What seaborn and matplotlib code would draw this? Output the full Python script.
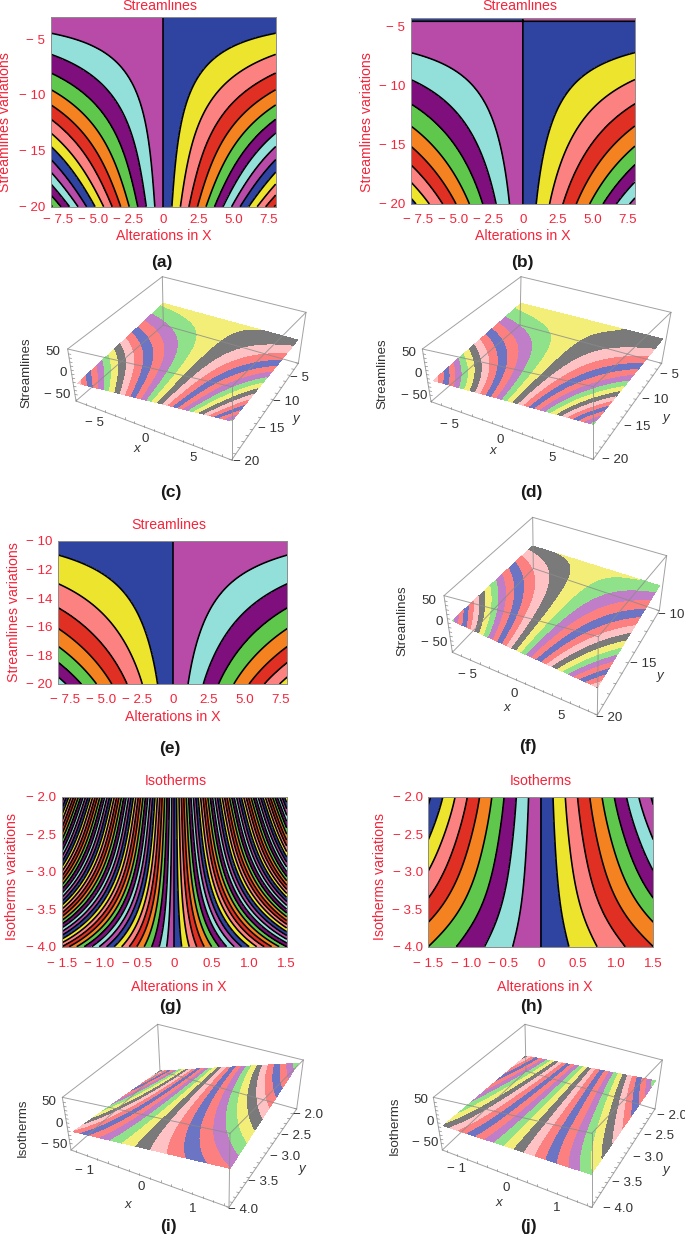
"""
Streamline and isotherm panels (a)-(j), contour maps and tilted surface views.
"""

import numpy as np
import pandas as pd
import matplotlib
matplotlib.use("Agg")
import matplotlib.pyplot as plt
import seaborn as sns

W, H = 685, 1237

# band colours
flat_colors = ["#2e44a0", "#ede42e", "#fc8282", "#e03024", "#f58220", "#5fc84c", "#7f0f7c", "#93e0da", "#b84aa8"]
tilt_colors = ["#f3ee78", "#7a7a7a", "#ffc2c4", "#fd8080", "#6c74c4", "#fd8080", "#c07ec8", "#8fe28a"]
RED = "#f5243a"
DARK = "#333333"

# level number reached on the right edge of each plot, against y
a_y = [-3, -4.5, -6.4, -8, -9.5, -10.9, -12.2, -13.5, -14.6, -15.7, -16.9, -18, -19, -20]
a_level = [0.25, 1, 2, 3, 4, 5, 6, 7, 8, 9, 10, 11, 12, 13.2]
b_y = [-4.3, -4.5, -7.2, -9.5, -11.5, -13.4, -15.1, -16.7, -18.1, -19.5, -20]
b_level = [-0.1, 0, 1, 2, 3, 4, 5, 6, 7, 8, 8.4]
c_y = [-4, -5, -6.4, -8, -9.5, -10.9, -12.2, -13.5, -14.6, -15.7, -16.9, -18, -19, -20]
c_level = [0.55, 1.0, 1.9, 3, 4.2, 5.4, 6.5, 7.6, 8.8, 9.8, 11, 12, 13.2, 14.6]
d_y = [-4, -7.2, -9.5, -11.5, -13.4, -15.1, -16.7, -18.1, -19.5, -20]
d_level = [0.55, 1.9, 3.6, 5.4, 7.2, 9, 10.8, 12.6, 14.1, 14.7]
e_y = [-10, -11, -13, -14.7, -16.1, -17.4, -18.5, -19.5, -20]
e_level = [0.6, 1, 2, 3, 4, 5, 6, 7, 7.5]
f_y = [-10, -11, -13, -14.7, -16.1, -17.4, -18.5, -19.5, -20]
f_level = [0.75, 1.8, 3.9, 5.9, 7.8, 9.8, 11.7, 13.7, 14.7]
g_y = [-4, -3.8, -3.5, -3, -2.5, -2]
g_level = [15, 19, 25, 34, 41, 47]
h_y = [-4, -3.67, -3.36, -2.98, -2.58, -2.1, -2]
h_level = [4, 5, 6, 7, 8, 9, 9.2]
i_y = [-4, -3.5, -3, -2.5, -2]
i_level = [5.4, 8.4, 10.9, 13.2, 15.2]
j_y = [-4, -3.5, -3, -2.5, -2]
j_level = [7.3, 9.3, 11, 13, 15.2]

x_ticks_wide = [-7.5, -5, -2.5, 0, 2.5, 5, 7.5]
x_labels_wide = ["− 7.5", "− 5.0", "− 2.5", "0", "2.5", "5.0", "7.5"]
x_ticks_narrow = [-1.5, -1, -0.5, 0, 0.5, 1, 1.5]
x_labels_narrow = ["− 1.5", "− 1.0", "− 0.5", "0", "0.5", "1.0", "1.5"]

fig = plt.figure(figsize=(W / 100, H / 100), dpi=100)
sns.set_theme(style="white")
plt.rcParams["font.family"] = ["Liberation Sans", "DejaVu Sans"]

over = fig.add_axes([0, 0, 1, 1], zorder=5)
over.set_xlim(0, W)
over.set_ylim(H, 0)
over.axis("off")
over.patch.set_alpha(0)


def put(px, py, s, color=DARK, size=10, **kw):
    over.text(px, py, s, color=color, fontsize=size, ha="center", va="center", **kw)


def level_curve(ys, levels, y):
    coef = np.polyfit(ys, levels, 5)
    return np.polyval(coef, y)


def flat_panel(box, xlim, ylim, ys, levels, xticks, xlabels, yticks, ylabels, title, ylabel,
               pad, sign=1):
    left, right, top, bottom = box
    ax = fig.add_axes([left / W, 1 - bottom / H, (right - left) / W, (bottom - top) / H])
    x = np.linspace(xlim[0], xlim[1], 500)
    y = np.linspace(ylim[0], ylim[1], 500)
    X, Y = np.meshgrid(x, y)
    Z = sign * X / xlim[1] * level_curve(ys, levels, Y)
    kmax = int(np.ceil(np.abs(Z).max())) + 1
    bounds = np.arange(-kmax, kmax + 1)
    pal = sns.color_palette(flat_colors)
    ax.contourf(X, Y, Z, levels=bounds, colors=[pal[k % 9] for k in bounds[:-1]], antialiased=False)
    ax.contour(X, Y, Z, levels=bounds, colors="black", linewidths=1.15, linestyles="solid")
    ax.set_xlim(*xlim)
    ax.set_ylim(*ylim)
    ax.set_xticks(xticks, xlabels)
    ax.set_yticks(yticks, ylabels)
    ax.tick_params(axis="x", colors=RED, labelsize=9.6, length=1.5, width=0.5, pad=pad, direction="in")
    ax.tick_params(axis="y", colors=RED, labelsize=9.6, length=1.5, width=0.5, pad=4, direction="in")
    for s in ax.spines.values():
        s.set_color("#8c8c8c")
        s.set_linewidth(0.7)
    title_xy, xlabel_xy, ylabel_xy = title, ylabel[0], ylabel[1]
    put(*title_xy[:2], title_xy[2], RED, 10.2)
    put(*xlabel_xy, "Alterations in X", RED, 10.2)
    put(*ylabel_xy[:2], ylabel_xy[2], RED, 10.2, rotation=90)


def homography(corners):
    """Map the unit square to the four plane corners FL, FR, BR, BL."""
    src = [(0, 0), (1, 0), (1, 1), (0, 1)]
    rows, rhs = [], []
    for (u, v), (px, py) in zip(src, corners):
        rows.append([u, v, 1, 0, 0, 0, -u * px, -v * px])
        rows.append([0, 0, 0, u, v, 1, -u * py, -v * py])
        rhs += [px, py]
    return np.append(np.linalg.solve(np.array(rows, float), np.array(rhs, float)), 1.0).reshape(3, 3)


def zoomed(points, off):
    return [(off[0] + p[0] / 3, off[1] + p[1] / 3) for p in points]


def tilt_panel(off, plane, frame, xlim, ylim, ys, levels, shift, sign=1):
    M = homography(zoomed(plane, off))
    x = np.linspace(xlim[0], xlim[1], 400)
    y = np.linspace(ylim[0], ylim[1], 400)
    X, Y = np.meshgrid(x, y)
    U = (X - xlim[0]) / (xlim[1] - xlim[0])
    V = (Y - ylim[0]) / (ylim[1] - ylim[0])
    den = M[2, 0] * U + M[2, 1] * V + M[2, 2]
    PX = (M[0, 0] * U + M[0, 1] * V + M[0, 2]) / den
    PY = (M[1, 0] * U + M[1, 1] * V + M[1, 2]) / den
    Z = sign * X / xlim[1] * level_curve(ys, levels, Y) + shift
    kmax = int(np.ceil(np.abs(Z).max())) + 2
    bounds = np.arange(-kmax, kmax + 1) - 0.5
    pal = sns.color_palette(tilt_colors)
    over.contourf(PX, PY, Z, levels=bounds, colors=[pal[k % 8] for k in range(-kmax, kmax)], zorder=2)
    # box edges
    pts = dict(zip(["TB", "LT", "RT", "LB", "RB", "FB", "BB", "FT"], zoomed(frame, off)))
    pairs = [("TB", "LT"), ("TB", "RT"), ("LT", "FT"), ("RT", "FT"), ("LT", "LB"), ("RT", "RB"),
             ("FT", "FB"), ("LB", "FB"), ("RB", "FB"), ("TB", "BB"), ("BB", "LB"), ("BB", "RB")]
    rows = []
    for n, (p, q) in enumerate(pairs):
        rows += [(n, *pts[p]), (n, *pts[q])]
    edges = pd.DataFrame(rows, columns=["edge", "px", "py"])
    sns.lineplot(data=edges, x="px", y="py", units="edge", estimator=None, sort=False,
                 color="#8a8a8a", lw=0.7, alpha=0.8, ax=over, zorder=3, legend=False)
    return pts


def edge_ticks(p, q, fracs, dx, dy):
    for n, f in enumerate(fracs):
        px = p[0] + (q[0] - p[0]) * f
        py = p[1] + (q[1] - p[1]) * f
        over.plot([px, px + dx], [py, py + dy], color="#8a8a8a", lw=0.5, zorder=3)


def tilt_ticks(pts, xlim, ylim, xstep, ystep):
    xv = np.arange(np.ceil(xlim[0] / xstep) * xstep, xlim[1] + 1e-6, xstep)
    yv = np.arange(np.ceil(ylim[0] / ystep) * ystep, ylim[1] + 1e-6, ystep)
    edge_ticks(pts["LB"], pts["FB"], (xv - xlim[0]) / (xlim[1] - xlim[0]), 0, -2)
    edge_ticks(pts["FB"], pts["RB"], (yv - ylim[0]) / (ylim[1] - ylim[0]), -2.5, -0.5)
    edge_ticks(pts["LT"], pts["LB"], np.arange(0.094, 0.9, 0.078), 2.5, 0.5)


def labels3d(off, rows):
    for (zx, zy, s, *rest) in rows:
        kw = rest[0] if rest else {}
        put(off[0] + zx / 3, off[1] + zy / 3, s, DARK, 9.6, **kw)


ITAL = {"style": "italic"}
VERT = {"rotation": 90}

# flat contour maps
flat_panel((51, 275.7, 16.7, 206.7), (-8, 8), (-20, -3), a_y, a_level, x_ticks_wide, x_labels_wide,
           [-5, -10, -15, -20], ["− 5", "− 10", "− 15", "− 20"], (160, 5.7, "Streamlines"),
           ((164, 236), (5.3, 122, "Streamlines variations")), 5)
flat_panel((410.7, 635, 18.3, 204), (-8, 8), (-20, -4.3), b_y, b_level, x_ticks_wide, x_labels_wide,
           [-5, -10, -15, -20], ["− 5", "− 10", "− 15", "− 20"], (519.7, 5.7, "Streamlines"),
           ((523, 236), (366.7, 122, "Streamlines variations")), 7)
flat_panel((58.3, 287.3, 540.7, 684), (-8, 8), (-20, -10), e_y, e_level, x_ticks_wide, x_labels_wide,
           [-10, -12, -14, -16, -18, -20], ["− 10", "− 12", "− 14", "− 16", "− 18", "− 20"],
           (169, 525, "Streamlines"), ((173, 717), (14, 612, "Streamlines variations")), 7, sign=-1)
flat_panel((61.7, 286.7, 796.7, 946.7), (-1.5, 1.5), (-4, -2), g_y, g_level, x_ticks_narrow, x_labels_narrow,
           [-2, -2.5, -3, -3.5, -4], ["− 2.0", "− 2.5", "− 3.0", "− 3.5", "− 4.0"],
           (175.7, 780.7, "Isotherms"), ((179, 986.7), (11.7, 877, "Isotherms variations")), 8)
flat_panel((428.3, 653.3, 796.7, 946.7), (-1.5, 1.5), (-4, -2), h_y, h_level, x_ticks_narrow, x_labels_narrow,
           [-2, -2.5, -3, -3.5, -4], ["− 2.0", "− 2.5", "− 3.0", "− 3.5", "− 4.0"],
           (541, 780.7, "Isotherms"), ((544.3, 986.7), (380, 877, "Isotherms variations")), 8)

# tilted surface views
off = (0, 265)
p = tilt_panel(off, [(233, 355), (695, 468), (893, 225), (490, 115)],
               [(487, 35), (203, 252), (918, 142), (228, 408), (895, 295), (695, 585), (490, 180), (695, 365)],
               (-8, 8), (-20, -4), c_y, c_level, 0.25)
tilt_ticks(p, (-8, 8), (-20, -4), 1, 1)
labels3d(off, [(78, 322, "Streamlines", VERT), (160, 262, "50"), (190, 325, "0"), (172, 390, "− 50"),
               (285, 475, "− 5"), (437, 522, "0"), (580, 580, "5"), (412, 553, "x", ITAL),
               (900, 338, "− 5"), (858, 412, "− 10"), (815, 493, "− 15"), (737, 592, "− 20"), (888, 462, "y", ITAL)])

off = (345, 265)
p = tilt_panel(off, [(265, 347), (745, 478), (953, 222), (528, 115)],
               [(528, 35), (232, 252), (978, 142), (258, 410), (950, 295), (745, 583), (525, 180), (745, 365)],
               (-8, 8), (-20, -4), d_y, d_level, 0.25)
tilt_ticks(p, (-8, 8), (-20, -4), 1, 1)
labels3d(off, [(113, 325, "Streamlines", VERT), (192, 265, "50"), (220, 328, "0"), (207, 392, "− 50"),
               (315, 480, "− 5"), (467, 525, "0"), (623, 580, "5"), (443, 558, "x", ITAL),
               (975, 330, "− 5"), (930, 405, "− 10"), (877, 487, "− 15"), (810, 585, "− 20"), (963, 458, "y", ITAL)])

off = (345, 470)
p = tilt_panel(off, [(322, 452), (757, 652), (943, 347), (563, 228)],
               [(563, 142), (297, 377), (965, 257), (322, 547), (943, 422), (757, 735), (565, 295), (760, 500)],
               (-8, 8), (-20, -10), f_y, f_level, 0.05, sign=-1)
tilt_ticks(p, (-8, 8), (-20, -10), 1, 1)
labels3d(off, [(172, 452, "Streamlines", VERT), (252, 392, "50"), (282, 455, "0"), (267, 520, "− 50"),
               (367, 615, "− 5"), (508, 673, "0"), (650, 738, "5"), (485, 715, "x", ITAL),
               (978, 435, "− 10"), (895, 582, "− 15"), (793, 743, "− 20"), (945, 618, "y", ITAL)])

off = (0, 1010)
p = tilt_panel(off, [(220, 365), (690, 475), (895, 160), (480, 183)],
               [(473, 43), (187, 262), (910, 150), (213, 420), (890, 297), (687, 592), (480, 183), (690, 370)],
               (-1.5, 1.5), (-4, -2), i_y, i_level, 0.0)
tilt_ticks(p, (-1.5, 1.5), (-4, -2), 0.2, 0.1)
labels3d(off, [(68, 352, "Isotherms", VERT), (147, 277, "50"), (177, 342, "0"), (162, 405, "− 50"),
               (255, 482, "− 1"), (425, 532, "0"), (577, 597, "1"), (385, 585, "x", ITAL),
               (925, 315, "− 2.0"), (887, 377, "− 2.5"), (855, 442, "− 3.0"), (790, 515, "− 3.5"),
               (730, 600, "− 4.0"), (905, 478, "y", ITAL)])

off = (345, 1010)
p = tilt_panel(off, [(295, 347), (738, 493), (932, 212), (543, 138)],
               [(540, 43), (265, 262), (952, 150), (292, 420), (930, 297), (740, 592), (543, 183), (740, 370)],
               (-1.5, 1.5), (-4, -2), j_y, j_level, 0.0)
tilt_ticks(p, (-1.5, 1.5), (-4, -2), 0.2, 0.1)
labels3d(off, [(148, 347, "Isotherms", VERT), (228, 270, "50"), (255, 335, "0"), (240, 398, "− 50"),
               (335, 478, "− 1"), (483, 533, "0"), (635, 593, "1"), (463, 580, "x", ITAL),
               (982, 318, "− 2.0"), (942, 378, "− 2.5"), (910, 445, "− 3.0"), (845, 518, "− 3.5"),
               (820, 598, "− 4.0"), (962, 480, "y", ITAL)])

over.set_xlim(0, W)
over.set_ylim(H, 0)

# panel letters
for (px, py, s) in [(162, 262, "(a)"), (522.7, 262, "(b)"), (170.7, 493, "(c)"), (531, 492, "(d)"),
                    (170, 748, "(e)"), (528, 747, "(f)"), (170.7, 1006.7, "(g)"), (531, 1006.7, "(h)"),
                    (168, 1227, "(i)"), (528, 1227, "(j)")]:
    put(px, py, s, "#1a1a1a", 12.5, fontweight="bold")

fig.savefig("out.png", dpi=100)
